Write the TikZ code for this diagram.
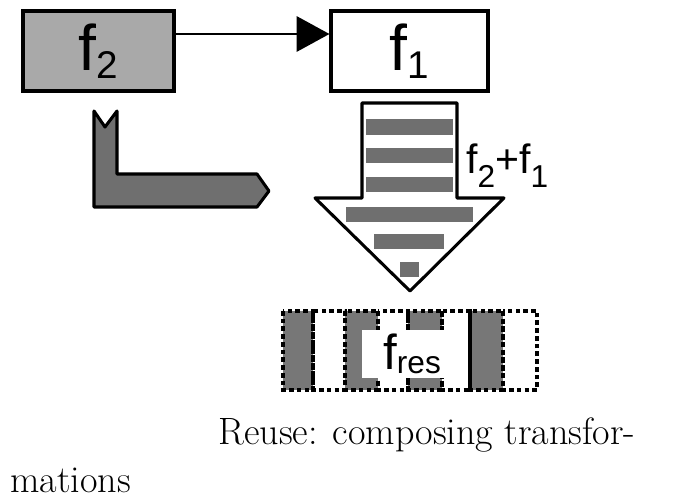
\documentclass[tikz,border=0pt]{standalone}
\usepackage{fontspec}
\newfontfamily\diagsf{Liberation Sans}
\usetikzlibrary{arrows.meta,calc}

\definecolor{lightgrey}{HTML}{A9A9A9}
\definecolor{darkgrey}{HTML}{6F6F6F}
\definecolor{cellgrey}{HTML}{777777}

% f with a lowered index: size, drop, index
\newcommand{\fidx}[3]{f\raisebox{-#2}{\fontsize{#1}{#1}\selectfont #3}}

\begin{document}
\begin{tikzpicture}[
  x=0.03cm, y=-0.03cm,
  fbox/.style={draw, line width=2.6pt, inner sep=0pt, minimum height=2.4cm,
    font=\diagsf\fontsize{55}{55}\selectfont},
  outline/.style={draw, line width=2.6pt, line join=round},
  stripe/.style={fill=darkgrey},
  cell/.style={draw, line width=3pt, dash pattern=on 4pt off 2.6pt},
  captext/.style={inner sep=0pt, anchor=base west, font=\fontsize{32.5}{39}\selectfont}
]
\useasboundingbox (0,0) rectangle (688,504);

% The two transformations
\node[fbox, fill=lightgrey, minimum width=4.53cm] (f2) at (98.5,51) {\fidx{33}{7pt}{2}};
\node[fbox, fill=white, minimum width=4.71cm] (f1) at (409.5,51) {\fidx{33}{7pt}{1}};
\draw[line width=2.2pt, -{Triangle[length=28pt,width=30pt]}]
  ([yshift=0.51cm]f2.east) -- ([yshift=0.51cm]f1.west);

% Bent arrow under f2
\draw[outline, fill=darkgrey] (94,111) -- (105,127) -- (117,111) -- (117,174)
  -- (257,174) -- (269,191) -- (257,207) -- (94,207) -- cycle;

% Big arrow down with stripes
\draw[outline, fill=white] (362,103) -- (457,103) -- (457,198) -- (504,198)
  -- (410,291) -- (315,198) -- (362,198) -- cycle;
\foreach \xa/\ya/\xb/\yb in {366/119/453/135, 366/148/453/163, 366/177/453/192,
    346/207/473/222, 374/234/444/249, 400/262/419/277}
  \fill[stripe] (\xa,\ya) rectangle (\xb,\yb);

\node[inner sep=0pt, anchor=base west, font=\diagsf\fontsize{35}{35}\selectfont]
  (sum) at (466,173) {\fidx{27}{12pt}{2}+\fidx{27}{12pt}{1}};

% Result: fill the cells first, then their dashed borders
\foreach \xa/\xb in {283/313, 345/378, 408/442, 470/503}
  \fill[cellgrey] (\xa,311) rectangle (\xb,390);
\foreach \xa/\xb in {283/313, 313/345, 345/378, 378/408, 408/442, 442/470, 470/503, 503/537}
  \draw[cell] (\xa,311) rectangle (\xb,390);
\fill[white] (362,330) rectangle (445,378);
\node[inner sep=0pt, anchor=base west, font=\diagsf\fontsize{42}{42}\selectfont]
  (res) at (383,369) {\fidx{27}{4pt}{res}};

% Caption
\node[captext] (cap1) at (218,444) {Reuse: composing transfor-};
\node[captext] (cap2) at (10,492) {mations};
\end{tikzpicture}
\end{document}
